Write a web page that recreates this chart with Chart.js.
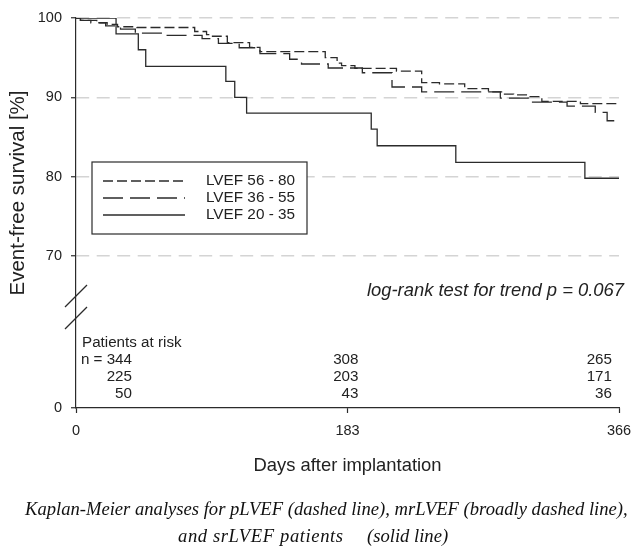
<!DOCTYPE html>
<html>
<head>
<meta charset="utf-8">
<script src="https://cdn.jsdelivr.net/npm/chart.js@4"></script>
<style>
  html, body { margin: 0; padding: 0; background: #fff; }
  #wrap { width: 631px; height: 547px; position: relative; }
</style>
</head>
<body>
<div id="wrap"><canvas id="kmChart"></canvas></div>
<script>
// Kaplan-Meier steps: day at which survival changes, and the new value (%)
const days5680 = [0, 3, 14, 21, 28, 41, 80, 88, 92, 102, 117, 124, 168, 176, 179, 188, 216, 233, 245, 262, 278, 288, 295, 305, 314, 340, 366];
const surv5680 = [100, 99.7, 99.4, 99.2, 98.9, 98.8, 98.3, 97.9, 97.7, 96.9, 96.3, 95.75, 95.0, 94.3, 94.0, 93.65, 93.3, 91.85, 91.7, 91.1, 90.7, 90.4, 90.3, 90.1, 89.5, 89.2, 89.2];

const days3655 = [0, 3, 10, 20, 30, 40, 60, 85, 96, 110, 124, 144, 152, 170, 193, 213, 233, 286, 305, 331, 350, 358, 366];
const surv3655 = [100, 99.7, 99.4, 99.0, 98.6, 98.1, 97.8, 97.4, 96.8, 96.25, 95.5, 94.8, 94.2, 93.7, 93.1, 91.3, 90.7, 89.9, 89.4, 88.9, 88.1, 87.05, 87.05];

const days2035 = [0, 27, 42, 47, 101, 107, 115, 199, 203, 256, 343, 366];
const surv2035 = [100, 98, 96, 93.9, 92, 90, 88, 86, 83.9, 81.8, 79.8, 79.8];

const seriesLabels = ["LVEF 56 - 80", "LVEF 36 - 55", "LVEF 20 - 35"];

const xTicks = [0, 183, 366];
const yTicks = [70, 80, 90, 100];
const Y_ZERO = 50.84; // where "0" sits, below the axis break

const atRiskDays = [0, 183, 366];
const atRisk5680 = [344, 308, 265];
const atRisk3655 = [225, 203, 171];
const atRisk2035 = [50, 43, 36];

const INK = "#2b2b2b";
const SANS = "'Liberation Sans', Arial, sans-serif";
const SERIF = "'Liberation Serif', 'Times New Roman', serif";

function toPoints(days, surv) {
  return days.map((d, i) => ({ x: d, y: surv[i] }));
}

function lineSet(label, days, surv, dash) {
  return {
    label: label,
    data: toPoints(days, surv),
    stepped: true,
    borderColor: INK,
    borderWidth: 1.3,
    borderDash: dash,
    pointRadius: 0,
    fill: false
  };
}

// extra text and marks: titles, legend box, at-risk table, axis break, caption
const extras = {
  id: "extras",
  afterDraw(chart) {
    const { ctx, chartArea: a, scales: { x, y } } = chart;
    ctx.save();

    // axis break slashes
    const y70 = y.getPixelForValue(70);
    ctx.strokeStyle = INK;
    ctx.lineWidth = 1.2;
    ctx.setLineDash([]);
    [29, 51].forEach(off => {
      ctx.beginPath();
      ctx.moveTo(a.left - 11, y70 + off + 22);
      ctx.lineTo(a.left + 11, y70 + off);
      ctx.stroke();
    });

    // legend box
    const lx = a.left + 16, ly = a.top + 144;
    ctx.fillStyle = "#fff";
    ctx.fillRect(lx, ly, 215, 72);
    ctx.strokeRect(lx, ly, 215, 72);
    ctx.font = "15.3px " + SANS;
    ctx.textBaseline = "middle";
    ctx.textAlign = "left";
    chart.data.datasets.forEach((ds, i) => {
      const ry = ly + 19 + i * 17;
      ctx.strokeStyle = INK;
      ctx.lineWidth = 1.3;
      ctx.setLineDash(ds.borderDash);
      ctx.beginPath();
      ctx.moveTo(lx + 11, ry);
      ctx.lineTo(lx + 93, ry);
      ctx.stroke();
      ctx.setLineDash([]);
      ctx.fillStyle = "#222";
      ctx.fillText(ds.label, lx + 114, ry);
    });

    // log-rank text
    ctx.font = "italic 18.4px " + SANS;
    ctx.textAlign = "right";
    ctx.fillText("log-rank test for trend p = 0.067", a.right + 5, 291);

    // patients at risk
    ctx.font = "15.2px " + SANS;
    ctx.textAlign = "left";
    ctx.fillText("Patients at risk", a.left + 6, a.bottom - 65);
    const colRight = [a.left + 56, x.getPixelForValue(atRiskDays[1]) + 11, x.getPixelForValue(atRiskDays[2]) - 7];
    [atRisk5680, atRisk3655, atRisk2035].forEach((row, r) => {
      const ry = a.bottom - 48 + r * 16.7;
      ctx.textAlign = "right";
      row.forEach((n, c) => {
        const txt = (r === 0 && c === 0) ? "n = " + n : String(n);
        ctx.fillText(txt, colRight[c], ry);
      });
    });

    // axis titles
    ctx.font = "18.4px " + SANS;
    ctx.textAlign = "center";
    ctx.fillText("Days after implantation", (a.left + a.right) / 2, 466);
    ctx.save();
    ctx.translate(18, 193);
    ctx.rotate(-Math.PI / 2);
    ctx.font = "20.5px " + SANS;
    ctx.fillText("Event-free survival [%]", 0, 0);
    ctx.restore();

    // caption
    ctx.font = "italic 18.6px " + SERIF;
    ctx.fillStyle = "#111";
    ctx.textAlign = "left";
    ctx.fillText("Kaplan-Meier analyses for pLVEF (dashed line), mrLVEF (broadly dashed line),", 25, 510);
    ctx.letterSpacing = "0.6px";
    ctx.fillText("and srLVEF patients", 178, 537);
    ctx.letterSpacing = "0px";
    ctx.fillText("(solid line)", 367, 537);

    ctx.restore();
  }
};

new Chart(document.getElementById("kmChart"), {
  type: "line",
  data: {
    datasets: [
      lineSet(seriesLabels[0], days5680, surv5680, [10, 4]),
      lineSet(seriesLabels[1], days3655, surv3655, [20, 7]),
      lineSet(seriesLabels[2], days2035, surv2035, [])
    ]
  },
  options: {
    responsive: true,
    maintainAspectRatio: false,
    animation: false,
    layout: { padding: { left: 0, right: 0, top: 18, bottom: 0 } },
    plugins: { legend: { display: false }, tooltip: { enabled: false } },
    scales: {
      x: {
        type: "linear",
        min: 0,
        max: 366,
        afterBuildTicks: s => { s.ticks = xTicks.map(v => ({ value: v })); },
        afterFit: s => { s.height = 139; s.paddingLeft = 0; s.paddingRight = 12; },
        grid: { drawOnChartArea: false, tickLength: 5, tickColor: INK, tickWidth: 1.2, color: INK },
        border: { color: INK, width: 1.2 },
        ticks: { padding: 9, color: "#222", maxRotation: 0, font: { family: SANS, size: 14.5 } }
      },
      y: {
        type: "linear",
        min: Y_ZERO,
        max: 100,
        afterBuildTicks: s => { s.ticks = [Y_ZERO].concat(yTicks).map(v => ({ value: v })); },
        afterFit: s => { s.width = 76; },
        grid: {
          color: c => (c.tick && c.tick.value === Y_ZERO) ? "rgba(0,0,0,0)" : "#d4d4d4",
          lineWidth: 1.5,
          tickLength: 5,
          tickColor: INK,
          tickWidth: 1.2
        },
        border: { color: INK, width: 1.2, dash: [13, 7.5] },
        ticks: {
          padding: 9,
          color: "#222",
          font: { family: SANS, size: 14.5 },
          callback: v => v === Y_ZERO ? "0" : String(v)
        }
      }
    }
  },
  plugins: [extras]
});
</script>
</body>
</html>
